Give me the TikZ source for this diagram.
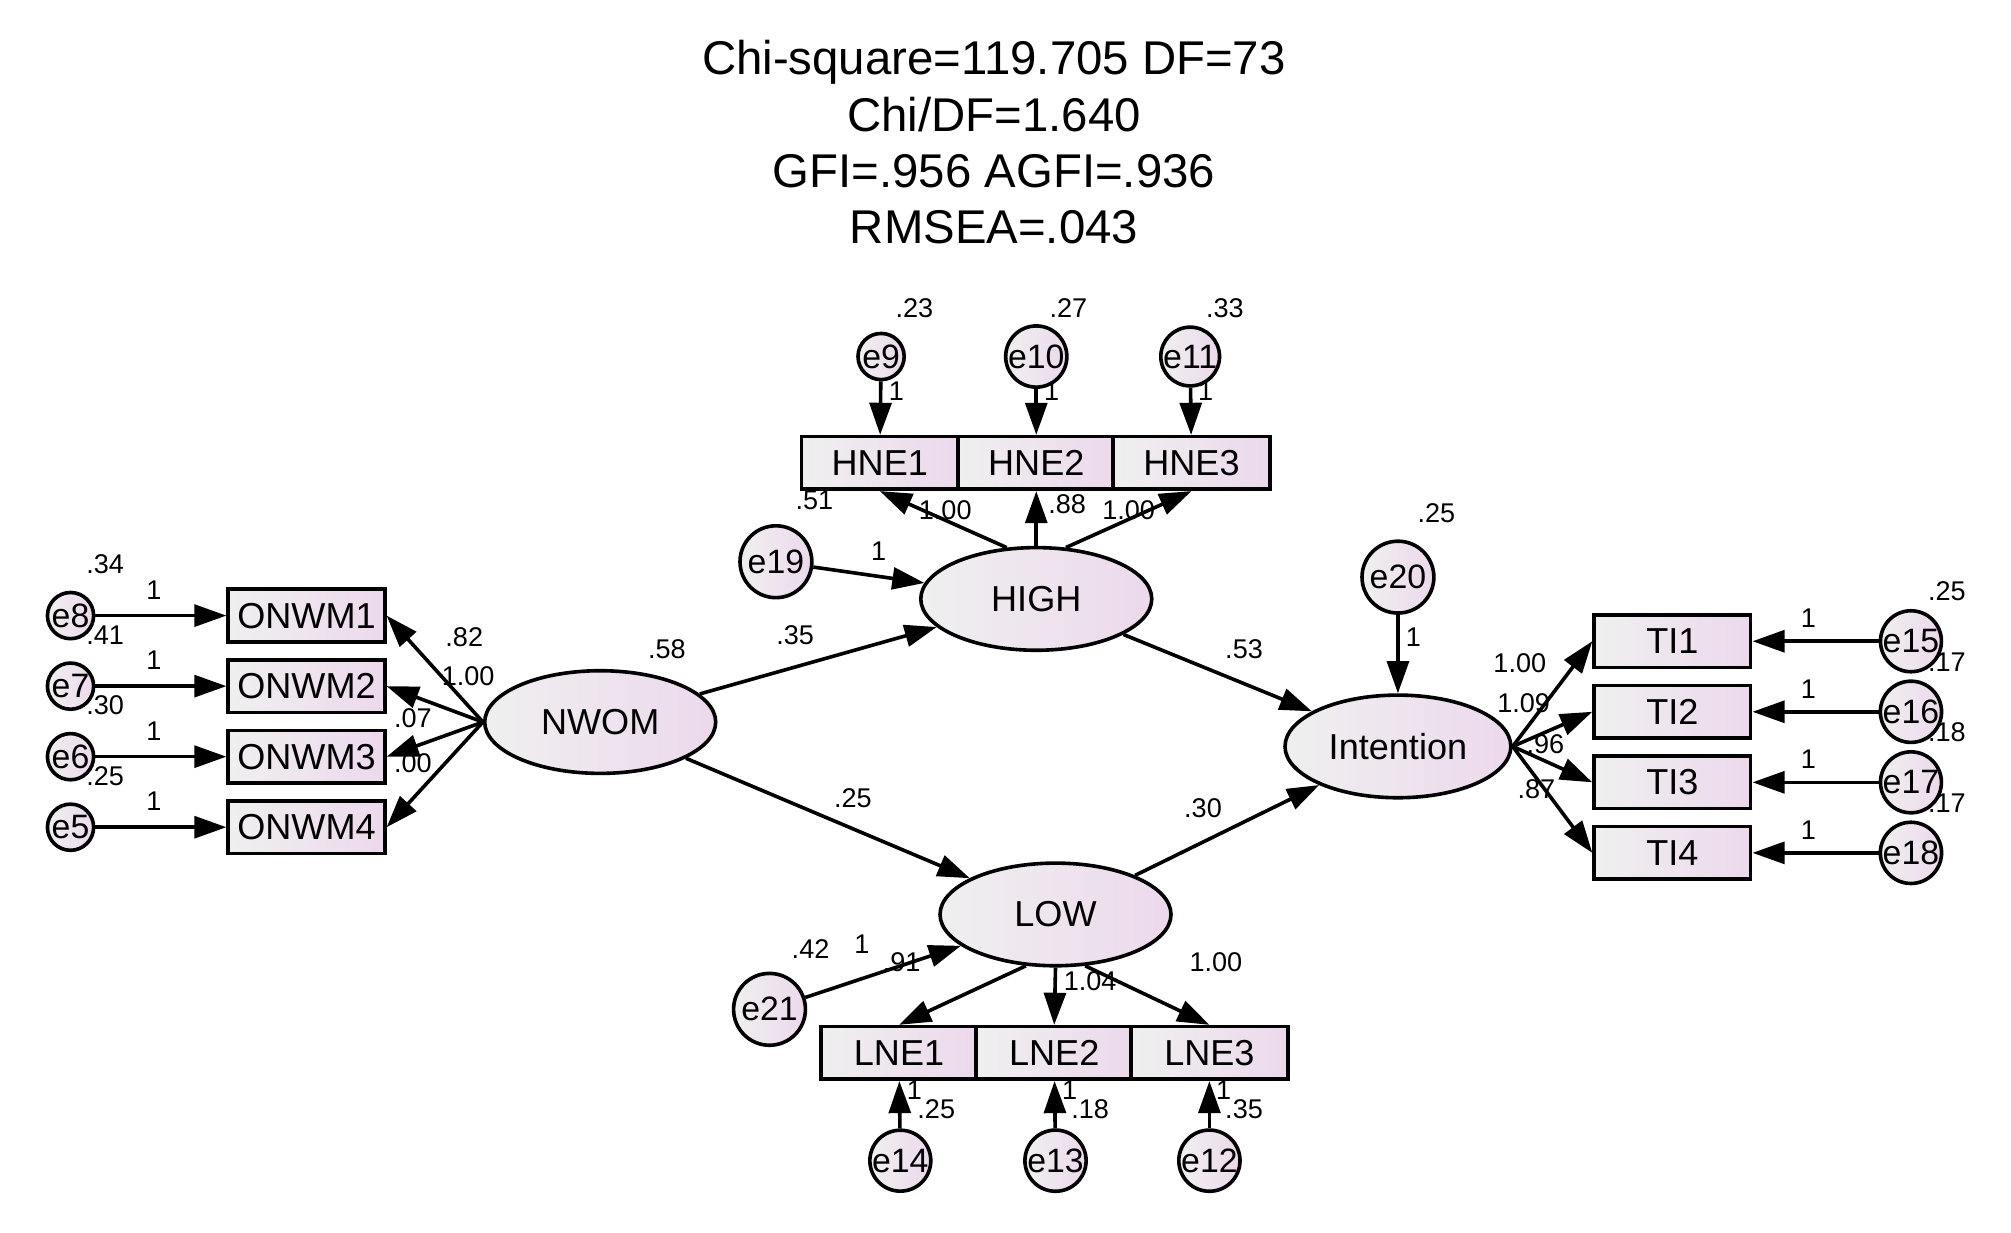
\documentclass[tikz,border=0pt]{standalone}
\usepackage{fontspec}
\setmainfont{Liberation Sans}
\usetikzlibrary{arrows.meta,shapes.geometric}
\begin{document}
\begin{tikzpicture}[x=0.01cm,y=-0.01cm,
  fillc/.style={left color=gray!12, right color=violet!15},
  box/.style={draw,thick,fillc,minimum width=1.22cm,minimum height=0.41cm,inner sep=0pt,font=\fontsize{8}{9}\selectfont},
  lat/.style={draw,thick,ellipse,fillc,minimum width=1.8cm,minimum height=0.8cm,inner sep=0pt,font=\fontsize{8}{9}\selectfont},
  err/.style={draw,thick,circle,fillc,minimum size=0.36cm,inner sep=0pt,font=\fontsize{7.5}{8}\selectfont},
  errb/.style={err,minimum size=0.56cm},
  lab/.style={font=\fontsize{6}{7}\selectfont,inner sep=0.5pt},
  ar/.style={thick,-{Triangle[length=0.25cm,width=0.17cm]}}]
\useasboundingbox (0,0) rectangle (1568,961);
\node[align=center,font=\fontsize{10.5}{12.5}\selectfont] (title) at (775,111) {Chi-square=119.705 DF=73\\Chi/DF=1.640\\GFI=.956 AGFI=.936\\RMSEA=.043};
% latents
\node[lat] (NWOM) at (468,563) {NWOM};
\node[lat] (HIGH) at (808,467) {HIGH};
\node[lat] (LOW) at (823,713) {LOW};
\node[lat,minimum width=1.76cm] (INT) at (1090,582) {Intention};
% HNE
\node[box] (HNE1) at (686,361) {HNE1};
\node[box] (HNE2) at (808,361) {HNE2};
\node[box] (HNE3) at (929,361) {HNE3};
\node[err] (e9) at (687,278) {e9};
\node[err] (e10) at (808,278) {e10};
\node[err] (e11) at (928,278) {e11};
\foreach \e/\b in {e9/HNE1,e10/HNE2,e11/HNE3} \draw[ar] (\e) -- (\b);
\node[lab] at (713,240) {.23}; \node[lab] at (833,240) {.27}; \node[lab] at (955,240) {.33};
\node[lab] at (699,305) {1}; \node[lab] at (820,305) {1}; \node[lab] at (940,305) {1};
\draw[ar] (HIGH.120) -- (HNE1.south);
\draw[ar] (HIGH.north) -- (HNE2.south);
\draw[ar] (HIGH.60) -- (HNE3.south);
\node[lab] at (737,398) {1.00}; \node[lab] at (832,393) {.88}; \node[lab] at (880,398) {1.00}; \node[lab] at (635,390) {.51};
% ONWM
\foreach \i/\y/\e/\v in {1/480/e8/.34,2/535/e7/.41,3/590/e6/.30,4/645/e5/.25}{
  \node[box] (ONWM\i) at (239,\y) {ONWM\i};
  \node[err] (\e) at (55,\y) {\e};
  \draw[ar] (\e) -- (ONWM\i);
  \node[lab] at (82,\y-40) {\v};
  \node[lab] at (120,\y-20) {1};
  \draw[ar] (NWOM.west) -- (ONWM\i.east);
}
\node[lab] at (362,497) {.82}; \node[lab] at (365,527) {1.00}; \node[lab] at (322,560) {.07}; \node[lab] at (322,595) {.00};
\node[lab] at (520,506) {.58};
% structural
\node[errb] (e19) at (605,438) {e19};
\node[errb] (e20) at (1090,450) {e20};
\node[errb] (e21) at (600,787) {e21};
\draw[ar] (e19) -- (HIGH);
\draw[ar] (e20) -- (INT);
\draw[ar] (e21) -- (LOW);
\node[lab] at (685,430) {1}; \node[lab] at (1102,497) {1}; \node[lab] at (672,736) {1};
\node[lab] at (1120,400) {.25}; \node[lab] at (632,740) {.42};
\draw[ar] (NWOM) -- (HIGH); \draw[ar] (NWOM) -- (LOW);
\draw[ar] (HIGH) -- (INT); \draw[ar] (LOW) -- (INT);
\node[lab] at (620,495) {.35}; \node[lab] at (665,622) {.25}; \node[lab] at (970,506) {.53}; \node[lab] at (938,630) {.30};
% LNE
\node[box] (LNE1) at (701,821) {LNE1};
\node[box] (LNE2) at (822,821) {LNE2};
\node[box] (LNE3) at (943,821) {LNE3};
\node[err] (e14) at (702,905) {e14};
\node[err] (e13) at (823,905) {e13};
\node[err] (e12) at (943,905) {e12};
\foreach \e/\b in {e14/LNE1,e13/LNE2,e12/LNE3} \draw[ar] (\e) -- (\b);
\draw[ar] (LOW.240) -- (LNE1.north); \draw[ar] (LOW.south) -- (LNE2.north); \draw[ar] (LOW.300) -- (LNE3.north);
\node[lab] at (703,750) {.91}; \node[lab] at (850,765) {1.04}; \node[lab] at (948,750) {1.00};
\node[lab] at (730,865) {.25}; \node[lab] at (850,865) {.18}; \node[lab] at (970,865) {.35};
\node[lab] at (713,850) {1}; \node[lab] at (834,850) {1}; \node[lab] at (954,850) {1};
% TI
\foreach \i/\y/\e/\v/\l in {1/500/e15/.25/1.00,2/555/e16/.17/1.09,3/610/e17/.18/.96,4/665/e18/.17/.87}{
  \node[box] (TI\i) at (1304,\y) {TI\i};
  \node[err] (\e) at (1490,\y) {\e};
  \draw[ar] (\e) -- (TI\i);
  \node[lab] at (1518,\y-39) {\v};
  \node[lab] at (1410,\y-18) {1};
  \draw[ar] (INT.east) -- (TI\i.west);
}
\node[lab] at (1185,517) {1.00}; \node[lab] at (1188,548) {1.09}; \node[lab] at (1205,580) {.96}; \node[lab] at (1198,615) {.87};
\end{tikzpicture}
\end{document}
